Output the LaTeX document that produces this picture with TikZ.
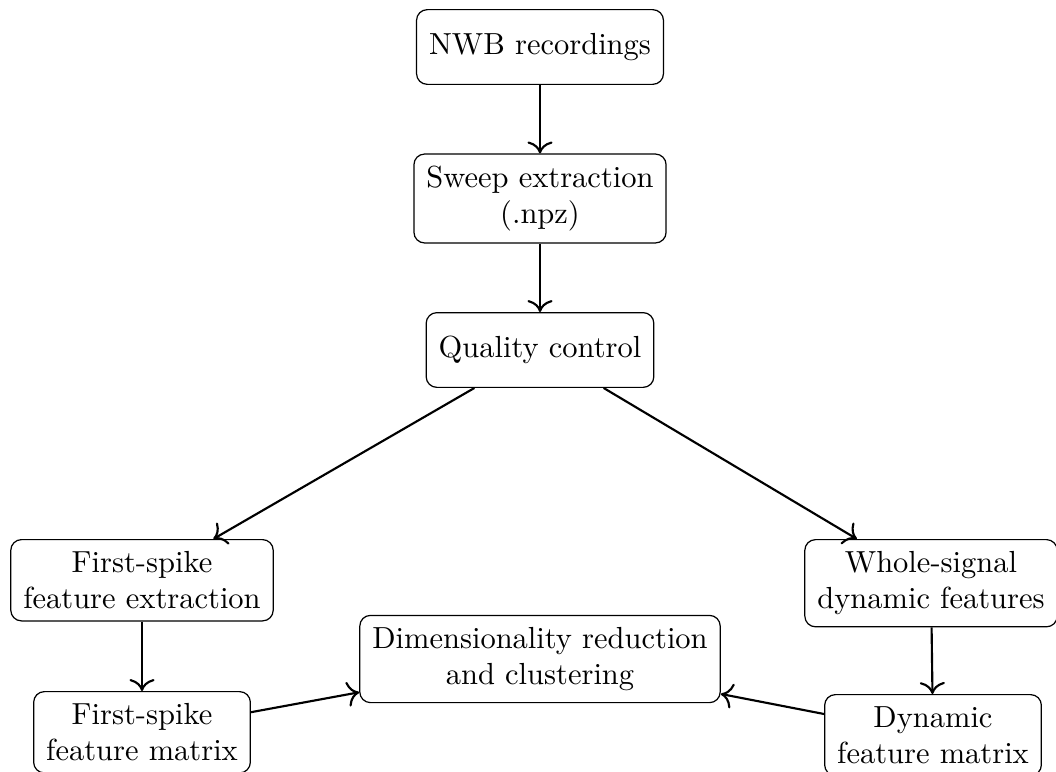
\documentclass[tikz,border=0pt]{standalone}
\usetikzlibrary{arrows.meta}
\begin{document}
\begin{tikzpicture}[x=0.32787pt,y=-0.32787pt,
  box/.style={draw, rounded corners=3.5pt, align=center, inner xsep=4.1pt, inner ysep=3.8pt, minimum height=24.5pt, line width=0.4pt},
  conn/.style={-{To[scale=1.25]}, line width=0.7pt}]
\useasboundingbox (0,0) rectangle (1056,771);
\node[box] (nwb) at (540,47) {NWB recordings};
\node[box] (sweep) at (540,198.5) {Sweep extraction\\(.npz)};
\node[box] (qc) at (540,350) {Quality control};
\node[box, anchor=north] (fs) at (142,539) {First-spike\\feature extraction};
\node[box, anchor=north] (ws) at (931,539) {Whole-signal\\dynamic features};
\node[box] (dr) at (540,659) {Dimensionality reduction\\and clustering};
\node[box, anchor=north] (fsm) at (142,691) {First-spike\\feature matrix};
\node[box, anchor=north] (dm) at (933,694) {Dynamic\\feature matrix};
\draw[conn] (nwb) -- (sweep);
\draw[conn] (sweep) -- (qc);
\draw[conn] (qc) -- (fs);
\draw[conn] (qc) -- (ws);
\draw[conn] (fs) -- (fsm);
\draw[conn] (ws) -- (dm);
\draw[conn] (fsm) -- (dr);
\draw[conn] (dm) -- (dr);
\end{tikzpicture}
\end{document}
